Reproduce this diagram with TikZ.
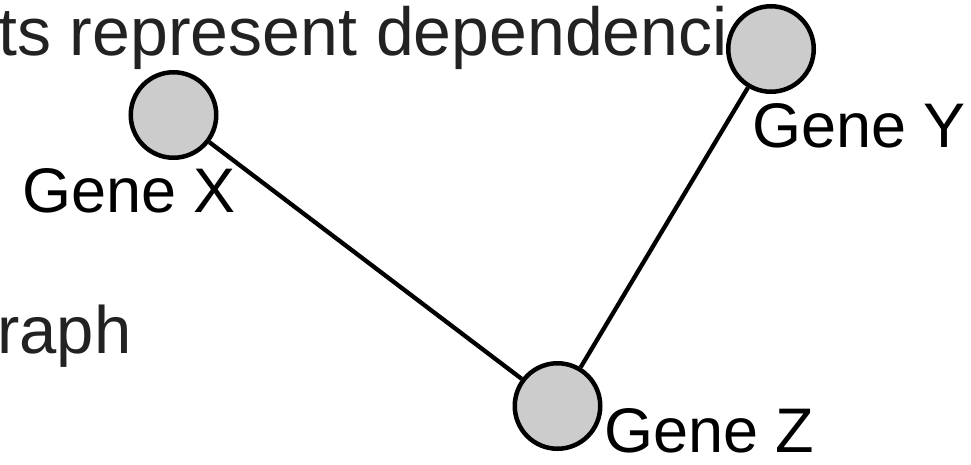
\documentclass[tikz,border=0pt]{standalone}
\usepackage{fontspec}
\setmainfont{Liberation Sans}
\definecolor{nodefill}{HTML}{CCCCCC}
\definecolor{bodytext}{HTML}{222222}
\tikzset{
  gene/.style={circle, draw=black, line width=4.5pt, fill=nodefill,
    minimum size=85.5pt, inner sep=0pt},
  genelabel/.style={anchor=base west, inner sep=0pt, text=black,
    font=\fontsize{63}{70}\selectfont},
  slidetext/.style={anchor=base west, inner sep=0pt, text=bodytext,
    font=\fontsize{68}{76}\selectfont},
  link/.style={draw=black, line width=4.3pt}
}
\begin{document}
\begin{tikzpicture}[x=1pt, y=-1pt]
  \useasboundingbox (0,0) rectangle (971,464);
  % slide text partly hidden behind the graph
  \node[slidetext] (head) at (-2,55) {ts represent dependenci};
  \node[slidetext, font=\fontsize{67}{75}\selectfont] (sub) at (-3,353) {raph};
  % gene nodes
  \node[gene] (x) at (173.5,115) {};
  \node[gene] (y) at (771,49) {};
  \node[gene] (z) at (557.5,406) {};
  % dependencies
  \draw[link] (x) -- (z);
  \draw[link] (y) -- (z);
  % labels
  \node[genelabel] (lx) at (22,212) {Gene X};
  \node[genelabel] (ly) at (752,147) {Gene Y};
  \node[genelabel] (lz) at (604,452) {Gene Z};
\end{tikzpicture}
\end{document}
